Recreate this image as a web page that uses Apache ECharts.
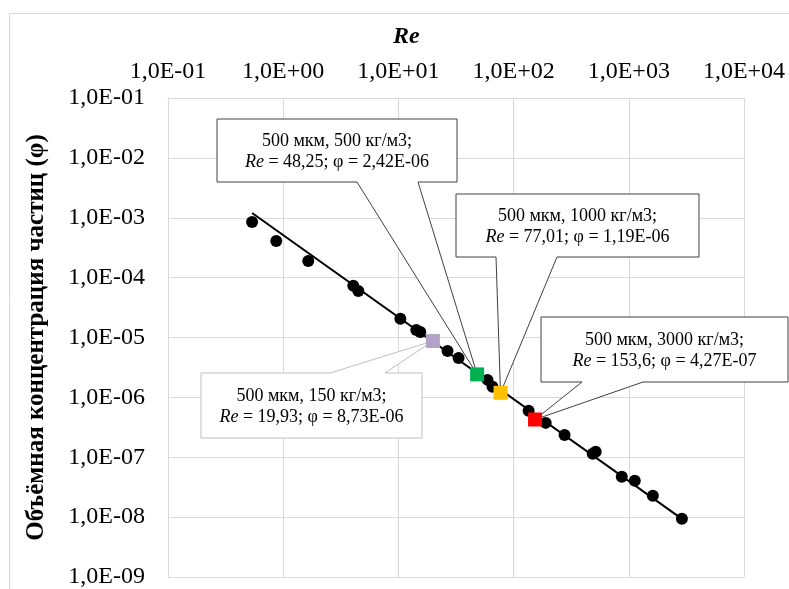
<!DOCTYPE html>
<html><head><meta charset="utf-8">
<script src="https://cdn.jsdelivr.net/npm/echarts@6/dist/echarts.min.js"></script>
<style>html,body{margin:0;padding:0;background:#fff}#c{width:789px;height:589px}</style>
</head><body><div id="c"></div>
<script>
// ---- data ----
const reData  = [0.537, 0.87, 1.65, 4.06, 4.49, 10.4, 14.3, 15.5, 26.7, 33.3, 59.4, 65.6, 135, 190, 277, 486, 516, 869, 1127, 1617, 2891];
const phiData = [8.5e-4, 4.1e-4, 1.9e-4, 7.3e-5, 6.0e-5, 2.05e-5, 1.34e-5, 1.24e-5, 5.97e-6, 4.56e-6, 1.96e-6, 1.50e-6, 5.96e-7, 3.75e-7, 2.36e-7, 1.14e-7, 1.23e-7, 4.71e-8, 4.04e-8, 2.27e-8, 9.37e-9];
const trendRe  = [0.537, 2891];
const trendPhi = [1.20e-3, 9.37e-9];
const hlRe      = [19.93, 48.25, 77.01, 153.6];
const hlPhi     = [8.73e-6, 2.42e-6, 1.19e-6, 4.27e-7];
const hlDensity = [150, 500, 1000, 3000];
const hlDiam    = [500, 500, 500, 500];
const xTitle = 'Re';
const yTitle = 'Объёмная концентрация частиц (φ)';

// ---- styles / layout ----
const FF = '"Liberation Serif","Times New Roman",serif';
const hlColors = ['#b3a2c7', '#00b050', '#ffc000', '#ff0000'];
// callout boxes [x1,y1,x2,y2, wedgeA, wedgeB, side, border]
const boxes = [
  [201, 373, 422, 438, 330, 385, 'top', '#bfbfbf'],
  [217, 119, 457, 182, 357, 418, 'bottom', '#404040'],
  [456, 194, 699, 257, 496, 557, 'bottom', '#404040'],
  [541, 317, 788, 382, 582, 643, 'bottom', '#404040']
];

function expLabel(v) {
  const e = Math.round(Math.log10(v));
  return '1,0E' + (e < 0 ? '-' : '+') + String(Math.abs(e)).padStart(2, '0');
}
function fmtRe(v) { return String(v).replace('.', ','); }
function fmtPhi(v) {
  const p = v.toExponential(2).split('e');
  const n = parseInt(p[1], 10);
  return p[0].replace('.', ',') + 'E' + (n < 0 ? '-' : '+') + String(Math.abs(n)).padStart(2, '0');
}

const chart = echarts.init(document.getElementById('c'), null, {renderer: 'canvas'});
const gridColor = '#d9d9d9';
chart.setOption({
  animation: false,
  backgroundColor: '#fff',
  title: {
    text: xTitle, left: 388, top: 20,
    textStyle: {fontFamily: FF, fontSize: 24, fontWeight: 'bold', fontStyle: 'italic', color: '#000'}
  },
  grid: {left: 168, right: 45, top: 98, bottom: 12, containLabel: false},
  xAxis: {
    type: 'log', position: 'top', min: 0.1, max: 10000, logBase: 10, interval: 1,
    axisLine: {show: true, lineStyle: {color: gridColor}},
    axisTick: {show: false},
    splitLine: {show: true, lineStyle: {color: gridColor}},
    axisLabel: {formatter: expLabel, fontFamily: FF, fontSize: 24, color: '#000', margin: 14,
      showMinLabel: true, showMaxLabel: true}
  },
  yAxis: {
    type: 'log', min: 1e-9, max: 0.1, logBase: 10, interval: 1,
    name: yTitle, nameLocation: 'middle', nameGap: 119, nameRotate: 90,
    nameTextStyle: {fontFamily: FF, fontSize: 25, fontWeight: 'bold', color: '#000'},
    axisLine: {show: true, lineStyle: {color: gridColor}},
    axisTick: {show: false},
    splitLine: {show: true, lineStyle: {color: gridColor}},
    axisLabel: {formatter: expLabel, fontFamily: FF, fontSize: 24, color: '#000', margin: 23,
      showMinLabel: true, showMaxLabel: true}
  },
  series: [
    {type: 'line', data: trendRe.map((r, i) => [r, trendPhi[i]]), symbol: 'none',
     lineStyle: {color: '#000', width: 2}, z: 3},
    {type: 'scatter', data: reData.map((r, i) => [r, phiData[i]]), symbol: 'circle', symbolSize: 12,
     itemStyle: {color: '#000', opacity: 1}, z: 4},
    {type: 'scatter', data: hlRe.map((r, i) => ({value: [r, hlPhi[i]], itemStyle: {color: hlColors[i], opacity: 1}})),
     symbol: 'rect', symbolSize: 14, z: 5}
  ]
});

const elems = [{
  type: 'rect', z: 0, silent: true,
  shape: {x: 9.5, y: 13.5, width: 900, height: 700},
  style: {fill: 'none', stroke: gridColor, lineWidth: 1}
}];
boxes.forEach((b, i) => {
  const tip = chart.convertToPixel({seriesIndex: 2}, [hlRe[i], hlPhi[i]]);
  const [x1, y1, x2, y2, wa, wb, side, col] = b;
  let pts;
  if (side === 'top') {
    pts = [[x1, y1], [wa, y1], tip, [wb, y1], [x2, y1], [x2, y2], [x1, y2]];
  } else {
    pts = [[x1, y1], [x2, y1], [x2, y2], [wb, y2], tip, [wa, y2], [x1, y2]];
  }
  elems.push({
    type: 'polygon', z: 1, silent: true,
    shape: {points: pts},
    style: {fill: '#fff', stroke: col, lineWidth: 1}
  });
  elems.push({
    type: 'text', z: 1, silent: true,
    x: (x1 + x2) / 2, y: (y1 + y2) / 2 + 1.5,
    style: {
      text: hlDiam[i] + ' мкм, ' + hlDensity[i] + ' кг/м3;\n{i|Re} = ' + fmtRe(hlRe[i]) + '; φ = ' + fmtPhi(hlPhi[i]),
      font: '18px ' + FF, fill: '#000', align: 'center', verticalAlign: 'middle', lineHeight: 21,
      rich: {i: {font: 'italic 18px ' + FF, fill: '#000', lineHeight: 21}}
    }
  });
});
chart.setOption({graphic: {elements: elems}});
</script>
</body></html>
